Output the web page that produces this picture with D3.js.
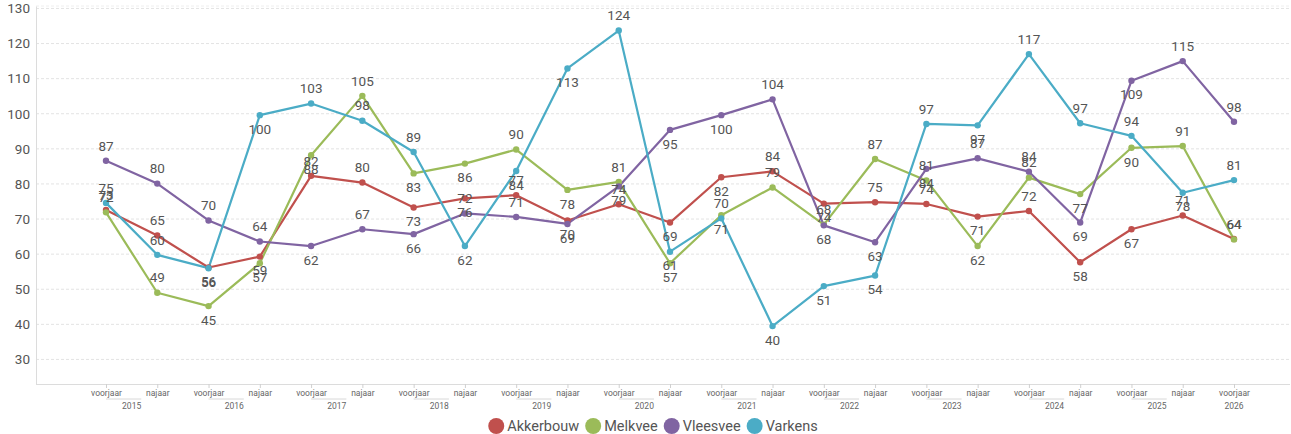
<!DOCTYPE html>
<html><head><meta charset="utf-8">
<script src="https://cdn.jsdelivr.net/npm/d3@7"></script>
<style>
body{margin:0;background:#fff;}
svg{display:block;font-family:Roboto,"Noto Sans",sans-serif;}
</style></head><body>
<svg id="c" width="1291" height="434"></svg>
<script>
const years = ["2015","2016","2017","2018","2019","2020","2021","2022","2023","2024","2025","2026"];
const seasons = ["voorjaar","najaar"];
const categories = [];
years.forEach(y => seasons.forEach(s => { if (!(y === "2026" && s === "najaar")) categories.push({year:y, season:s}); }));
const yTicks = [30,40,50,60,70,80,90,100,110,120,130];
const seriesNames = ["Akkerbouw","Melkvee","Vleesvee","Varkens"];
const akkerbouw = [72.6,65.3,56.2,59.3,82.3,80.4,73.3,75.9,76.8,69.6,74.2,69.0,81.9,83.6,74.4,74.8,74.3,70.7,72.3,57.7,67.1,71.0,64.3];
const melkvee   = [71.9,49.0,45.2,57.4,88.2,105.1,83.0,85.8,89.8,78.3,80.6,57.4,71.1,79.0,68.4,87.1,81.0,62.3,81.8,77.1,90.3,90.8,64.2];
const vleesvee  = [86.6,80.1,69.6,63.6,62.3,67.1,65.7,71.6,70.6,68.6,79.3,95.4,99.6,104.1,68.2,63.4,84.3,87.3,83.5,69.0,109.4,115.0,97.7];
const varkens   = [74.6,59.8,56.0,99.6,102.9,98.0,89.1,62.3,83.7,112.9,123.7,60.7,70.2,39.5,50.9,53.9,97.1,96.7,117.0,97.3,93.7,77.5,81.1];
const seriesValues = [akkerbouw, melkvee, vleesvee, varkens];

// label placement (a = above point, b = below point), styling only
const labelSide = [
  "aabbaabbababbabaababbaa",
  "aabbbabbababbaaaababbaa",
  "aaaababaabbbbabbbaabbaa",
  "aabbaaabbbababbbabaaaba"
];
const colors = ["#c0504d","#9bbb59","#8064a2","#4bacc6"];

const svg = d3.select("#c");
const L = 36, R = 1290, T = 6, B = 384;
const x = d3.scalePoint().domain(d3.range(categories.length)).range([106, 1234]);
const y = d3.scaleLinear().domain([23, 130.7]).range([B, T]);

// grid
svg.append("g").selectAll("line").data(yTicks).join("line")
  .attr("x1", L).attr("x2", R).attr("y1", d => y(d)).attr("y2", d => y(d))
  .attr("stroke", "#e3e3e3").attr("stroke-width", 1).attr("stroke-dasharray", "3,2");
svg.append("line").attr("x1", L).attr("x2", R).attr("y1", T).attr("y2", T)
  .attr("stroke", "#eeeeee").attr("stroke-dasharray", "3,2");

// y axis
const yAxis = d3.axisLeft(y).tickValues(yTicks).tickSize(0).tickPadding(6);
const gy = svg.append("g").attr("transform", `translate(${L},0)`).call(yAxis);
gy.select(".domain").attr("stroke", "#dcdcdc");
gy.selectAll("text").attr("font-size", 13.5).attr("fill", "#555").attr("font-family", "Roboto");

// x axis
const xAxis = d3.axisBottom(x).tickSize(4).tickPadding(2).tickFormat(i => categories[i].season);
const gx = svg.append("g").attr("transform", `translate(0,${B})`).call(xAxis);
gx.select(".domain").attr("d", `M${L},0.5H${R}`).attr("stroke", "#dcdcdc");
gx.selectAll(".tick line").attr("stroke", "#d0d0d0");
gx.selectAll("text").attr("font-size", 8.5).attr("fill", "#666").attr("font-family", "Roboto");

// year group labels
const groups = years.map(yr => {
  const idx = categories.map((c,i)=>c.year===yr?i:-1).filter(i=>i>=0);
  return {year: yr, idx};
});
const gg = svg.append("g");
groups.forEach(g => {
  const x0 = x(g.idx[0]), x1 = x(g.idx[g.idx.length-1]);
  if (g.idx.length > 1) {
    gg.append("line").attr("x1", x0).attr("x2", x1 - 16).attr("y1", 399).attr("y2", 399)
      .attr("stroke", "#d8d8d8").attr("stroke-width", 1);
  }
  gg.append("text").attr("x", (x0 + x1) / 2).attr("y", 409).attr("text-anchor", "middle")
    .attr("font-size", 8.5).attr("fill", "#666").text(g.year);
});

// lines
const line = d3.line().x((d,i) => x(i)).y(d => y(d));
seriesValues.forEach((vals, s) => {
  svg.append("path").datum(vals).attr("d", line).attr("fill", "none")
    .attr("stroke", colors[s]).attr("stroke-width", 2.2).attr("stroke-linejoin", "round");
});
seriesValues.forEach((vals, s) => {
  svg.append("g").selectAll("circle").data(vals).join("circle")
    .attr("cx", (d,i) => x(i)).attr("cy", d => y(d)).attr("r", 3.2).attr("fill", colors[s]);
});
// labels
seriesValues.forEach((vals, s) => {
  svg.append("g").selectAll("text").data(vals).join("text")
    .attr("x", (d,i) => x(i))
    .attr("y", (d,i) => y(d) + (labelSide[s][i] === "a" ? -15 : 14))
    .attr("dy", "0.35em").attr("text-anchor", "middle")
    .attr("font-size", 13.5).attr("fill", "#555").attr("font-family", "Roboto")
    .text(d => Math.round(d));
});

// legend
const lg = svg.append("g");
let lx = 0;
seriesNames.forEach((n, i) => {
  lg.append("circle").attr("cx", lx + 8).attr("cy", 426).attr("r", 8).attr("fill", colors[i]);
  const t = lg.append("text").attr("x", lx + 19).attr("y", 426).attr("dy", "0.35em")
    .attr("font-size", 14.5).attr("fill", "#555").text(n);
  lx += 19 + t.node().getComputedTextLength() + (i < seriesNames.length - 1 ? 6 : 0);
});
lg.attr("transform", `translate(${653 - lx / 2},0)`);
</script>
</body></html>
